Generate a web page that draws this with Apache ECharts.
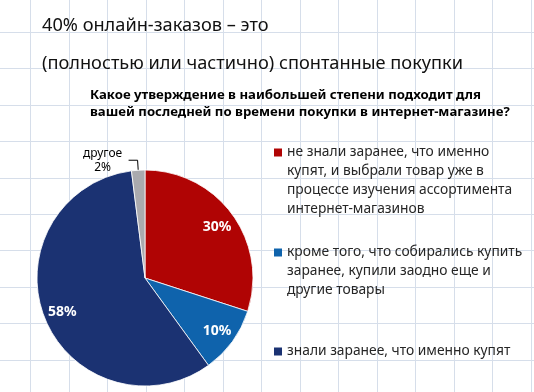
<!DOCTYPE html>
<html>
<head>
<meta charset="utf-8">
<script src="https://cdn.jsdelivr.net/npm/echarts@6/dist/echarts.min.js"></script>
<style>
  html, body { margin: 0; padding: 0; background: #fff; }
  #chart { width: 534px; height: 392px; }
</style>
</head>
<body>
<div id="chart"></div>
<script>
// ---- data ----
const titleLines = ['40% онлайн-заказов – это', '(полностью или частично) спонтанные покупки'];
const questionLines = ['Какое утверждение в наибольшей степени подходит для', 'вашей последней по времени покупки в интернет-магазине?'];
const categories = [
  'не знали заранее, что именно\nкупят, и выбрали товар уже в\nпроцессе изучения ассортимента\nинтернет-магазинов',
  'кроме того, что собирались купить\nзаранее, купили заодно еще и\nдругие товары',
  'знали заранее, что именно купят',
  'другое'
];
const values = [30, 10, 58, 2];
const colors = ['#B00404', '#0F63AC', '#1B3272', '#AAAAAE'];
const inLegend = [true, true, true, false];
const labelInside = [true, true, true, false];

// ---- background spreadsheet grid (decoration) ----
const gridColor = '#D6DEEA';
const graphics = [];
for (let k = 0; k < 14; k++) {
  const x = Math.round(30 + 38.5 * k) + 0.5;
  graphics.push({ type: 'line', z: 0, silent: true, shape: { x1: x, y1: 0, x2: x, y2: 392 }, style: { stroke: gridColor, lineWidth: 1 } });
}
for (let k = 0; k < 11; k++) {
  const y = Math.round(32 + 36.4 * k) + 0.5;
  graphics.push({ type: 'line', z: 0, silent: true, shape: { x1: 0, y1: y, x2: 534, y2: y }, style: { stroke: gridColor, lineWidth: 1 } });
}

const FONT = '"Noto Sans", "DejaVu Sans", sans-serif';

const mainData = categories.map((n, i) => ({
  name: n, value: values[i],
  itemStyle: { color: colors[i] },
  label: { show: !labelInside[i] }
}));
const ringData = categories.map((n, i) => ({
  name: n, value: values[i],
  label: { show: labelInside[i] }
}));

// legend: one component per item, with rich-text colour square on first line
const legendTops = [143, 243, 342];
const legends = [];
let li = 0;
categories.forEach((n, i) => {
  if (!inLegend[i]) return;
  const rich = {
    sq: { width: 8, height: 8, backgroundColor: colors[i] },
    ind: { width: 8 },
    t: { fontFamily: FONT, fontSize: 13.8, lineHeight: 19, color: '#262626', padding: [0, 0, 0, 5] }
  };
  legends.push({
    data: [n],
    left: 269, top: legendTops[li++],
    padding: 0, itemWidth: 0, itemHeight: 8, icon: 'none',
    selectedMode: false,
    formatter: name => name.split('\n').map((l, j) => (j === 0 ? '{sq|}' : '{ind|}') + '{t|' + l + '}').join('\n'),
    textStyle: { rich: rich, fontFamily: FONT, fontSize: 13.8, lineHeight: 19 }
  });
});

const chart = echarts.init(document.getElementById('chart'), null, { renderer: 'canvas' });
chart.setOption({
  animation: false,
  backgroundColor: '#fff',
  graphic: graphics,
  title: [
    {
      text: titleLines.join('\n'), left: 37, top: 2,
      textStyle: { fontFamily: FONT, fontSize: 18.2, fontWeight: 'normal', color: '#111', lineHeight: 38 }
    },
    {
      text: questionLines.join('\n'), left: 85, top: 82,
      textStyle: { fontFamily: FONT, fontSize: 13.2, fontWeight: 'bold', color: '#000', lineHeight: 16.5 }
    }
  ],
  legend: legends,
  series: [
    {
      type: 'pie', center: [145, 278], radius: 108, startAngle: 90, clockwise: true,
      avoidLabelOverlap: false,
      itemStyle: { borderColor: '#fff', borderWidth: 0.8 },
      emphasis: { disabled: true },
      label: {
        position: 'outside', formatter: '{a|{b}}\n{a|{c}%}', fontFamily: FONT, fontSize: 12,
        color: '#000', lineHeight: 14,
        rich: { a: { width: 42, align: 'center', fontFamily: FONT, fontSize: 12, lineHeight: 14, color: '#000' } }
      },
      labelLine: { show: true, length: 10, length2: 9, lineStyle: { color: '#000', width: 1 } },
      data: mainData
    },
    {
      type: 'pie', center: [145, 279], radius: [64, 108], startAngle: 90, clockwise: true,
      silent: true, emphasis: { disabled: true },
      itemStyle: { color: 'rgba(0,0,0,0)' },
      label: { position: 'inside', formatter: '{c}%', fontFamily: FONT, fontSize: 14, fontWeight: 'bold', color: '#fff' },
      labelLine: { show: false },
      data: ringData
    }
  ]
});
</script>
</body>
</html>
